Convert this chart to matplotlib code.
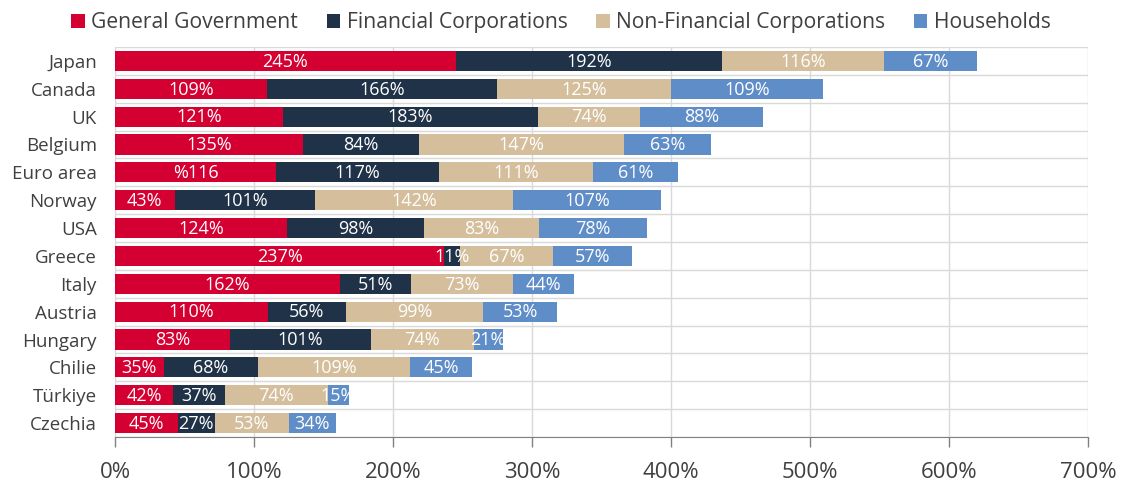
import numpy as np
import matplotlib.pyplot as plt
from matplotlib.patches import Patch

plt.rcParams["font.family"] = ["Open Sans", "DejaVu Sans"]

# ── Data ────────────────────────────────────────────────────────────────────
countries = ["Japan", "Canada", "UK", "Belgium", "Euro area", "Norway", "USA",
             "Greece", "Italy", "Austria", "Hungary", "Chilie", "Türkiye", "Czechia"]
general_gov = [245, 109, 121, 135, 116, 43, 124, 237, 162, 110, 83, 35, 42, 45]
financial = [192, 166, 183, 84, 117, 101, 98, 11, 51, 56, 101, 68, 37, 27]
non_financial = [116, 125, 74, 147, 111, 142, 83, 67, 73, 99, 74, 109, 74, 53]
households = [67, 109, 88, 63, 61, 107, 78, 57, 44, 53, 21, 45, 15, 34]
series_names = ["General Government", "Financial Corporations",
                "Non-Financial Corporations", "Households"]
colors = ["#D50032", "#1F3247", "#D5BE9C", "#5F8DC8"]
x_ticks = [0, 100, 200, 300, 400, 500, 600, 700]


def main() -> None:
    fig = plt.figure(figsize=(11.24, 4.84), dpi=100)
    ax = fig.add_axes([0.1023, 0.097, 0.8657, 0.806])

    y = np.arange(len(countries))
    series = [general_gov, financial, non_financial, households]
    left = np.zeros(len(countries))
    for vals, col in zip(series, colors):
        vals = np.array(vals, dtype=float)
        ax.barh(y, vals, left=left, height=0.72, color=col, zorder=3)
        for yi, (l, v) in enumerate(zip(left, vals)):
            txt = f"{int(v)}%"
            if countries[yi] == "Euro area" and col == colors[0]:
                txt = "%116"
            ax.text(l + v / 2, yi + 0.03, txt, ha="center", va="center",
                    color="white", fontsize=13, zorder=4)
        left += vals

    ax.set_ylim(len(countries) - 0.5, -0.5)
    ax.set_xlim(0, 700)
    ax.set_yticks(y)
    ax.set_yticklabels(countries, fontsize=13.5, color="#404040")
    ax.set_yticks(np.arange(-0.5, len(countries), 1), minor=True)
    ax.set_xticks(x_ticks)
    ax.set_xticklabels([f"{t}%" for t in x_ticks], fontsize=16, color="#404040")

    ax.grid(axis="x", color="#D9D9D9", linewidth=1, zorder=0)
    ax.grid(axis="y", which="minor", color="#D9D9D9", linewidth=1, zorder=0)
    ax.tick_params(axis="y", which="both", length=0, pad=13)
    ax.tick_params(axis="x", length=7, width=1, color="#808080", pad=11)

    for s in ["top", "right", "left"]:
        ax.spines[s].set_visible(False)
    ax.spines["bottom"].set_color("#808080")
    ax.spines["bottom"].set_zorder(5)

    handles = [Patch(facecolor=c, edgecolor="none") for c in colors]
    fig.legend(handles, series_names, loc="center", bbox_to_anchor=(0.499, 0.953),
               ncol=4, frameon=False, fontsize=15.2, handlelength=0.65,
               handleheight=0.65, handletextpad=0.3, columnspacing=1.35,
               labelcolor="#404040")

    fig.savefig("out.png", dpi=100)
    plt.close(fig)


if __name__ == "__main__":
    main()
